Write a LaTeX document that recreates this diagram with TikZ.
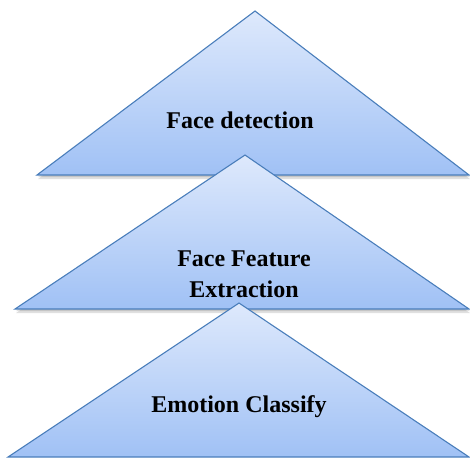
\documentclass[tikz,border=0pt]{standalone}
\usepackage{fontspec}
\setmainfont{Liberation Serif}
\usetikzlibrary{positioning}
\definecolor{tritop}{RGB}{222,233,252}
\definecolor{tribottom}{RGB}{160,193,245}
\definecolor{triline}{RGB}{74,126,187}
\tikzset{
  layer/.style={draw=triline, line width=1.1pt, line join=miter, top color=tritop, bottom color=tribottom},
  layershadow/.style={fill=black, opacity=0.12},
  tritext/.style={font=\fontsize{24}{31}\selectfont\bfseries, align=center, inner sep=0pt}
}

\begin{document}
\begin{tikzpicture}[x=1pt, y=1pt]
\useasboundingbox (0,0) rectangle (470,459);

% Vertici
\coordinate (detTop) at (255,448);
\coordinate (detL) at (37,284);
\coordinate (detR) at (469,284);
\coordinate (featTop) at (245,304);
\coordinate (featL) at (15,150);
\coordinate (featR) at (469,150);
\coordinate (emoTop) at (239,156);
\coordinate (emoL) at (8,2);
\coordinate (emoR) at (469,2);

% Triangoli
\fill[layershadow] ([shift={(1,-2)}]detL) -- ([shift={(1,-2)}]detR) -- ([shift={(1,-2)}]detTop) -- cycle;
\fill[layershadow] ([shift={(1,-4)}]detL) -- ([shift={(1,-4)}]detR) -- ([shift={(1,-4)}]detTop) -- cycle;
\path[layer] (detL) -- (detTop) -- (detR) -- cycle;

\fill[layershadow] ([shift={(1,-2)}]featL) -- ([shift={(1,-2)}]featR) -- ([shift={(1,-2)}]featTop) -- cycle;
\fill[layershadow] ([shift={(1,-4)}]featL) -- ([shift={(1,-4)}]featR) -- ([shift={(1,-4)}]featTop) -- cycle;
\path[layer] (featL) -- (featTop) -- (featR) -- cycle;

\path[layer] (emoL) -- (emoTop) -- (emoR) -- cycle;

% Testi
\node[tritext] (detection) at (240,339) {Face detection};
\node[tritext] (feature) at (244,185) {Face Feature\\Extraction};
\node[tritext] (classify) at (239,52) {Emotion Classify};

\end{tikzpicture}
\end{document}
